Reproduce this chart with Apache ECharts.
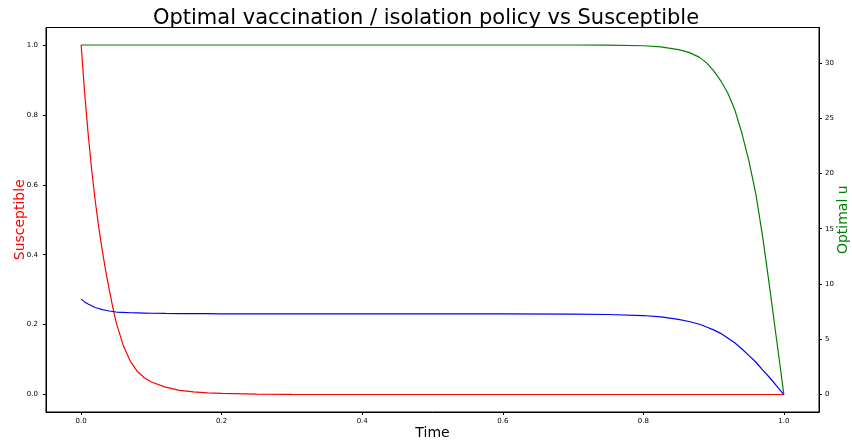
<!DOCTYPE html>
<html>
<head>
<meta charset="utf-8">
<script src="https://cdn.jsdelivr.net/npm/echarts@6/dist/echarts.min.js"></script>
<style>
  html, body { margin: 0; padding: 0; background: #fff; }
  #chart { width: 852px; height: 444px; }
</style>
</head>
<body>
<div id="chart"></div>
<script>
// time grid (non uniform, denser where the curves bend)
var times = [0, 0.005, 0.01, 0.015, 0.02, 0.025, 0.03, 0.035, 0.04, 0.045, 0.05, 0.06, 0.07, 0.08, 0.09,
    0.1, 0.12, 0.14, 0.16, 0.18, 0.2, 0.25, 0.3, 0.4, 0.5, 0.6, 0.7, 0.75, 0.8, 0.825, 0.85, 0.865, 0.88,
    0.89, 0.9, 0.91, 0.92, 0.93, 0.94, 0.95, 0.96, 0.97, 0.98, 0.99, 1.0];
// susceptible (red, left axis)
var susceptible = [1.0, 0.863, 0.745, 0.643, 0.555, 0.479, 0.413, 0.353, 0.300, 0.250, 0.205, 0.140, 0.095,
    0.066, 0.048, 0.036, 0.021, 0.012, 0.0075, 0.0045, 0.003, 0.001, 0.0005,
    0, 0, 0, 0, 0, 0, 0, 0, 0, 0, 0, 0, 0, 0, 0, 0, 0, 0, 0, 0, 0, 0];
// blue curve (left axis)
var blueLine = [0.273, 0.265, 0.259, 0.254, 0.249, 0.246, 0.243, 0.241, 0.239, 0.2375, 0.236, 0.235, 0.234,
    0.2335, 0.233, 0.2325, 0.232, 0.2317, 0.2315, 0.2312, 0.231, 0.231, 0.231, 0.231, 0.231, 0.2305, 0.230,
    0.229, 0.226, 0.222, 0.215, 0.209, 0.201, 0.193, 0.185, 0.175, 0.162, 0.148, 0.131, 0.112, 0.093,
    0.070, 0.048, 0.024, 0];
// optimal u (green, right axis)
var optimalU = [31.62, 31.62, 31.62, 31.62, 31.62, 31.62, 31.62, 31.62, 31.62, 31.62, 31.62, 31.62, 31.62,
    31.62, 31.62, 31.62, 31.62, 31.62, 31.62, 31.62, 31.62, 31.62, 31.62, 31.62, 31.62, 31.62, 31.62,
    31.61, 31.55, 31.45, 31.2, 30.95, 30.5, 30.0, 29.3, 28.4, 27.3, 25.8, 23.7, 21.2, 18.2, 14.2, 9.6,
    4.8, 0];

var xTicks = [0, 0.2, 0.4, 0.6, 0.8, 1.0];
var leftTicks = [0, 0.2, 0.4, 0.6, 0.8, 1.0];
var rightTicks = [0, 5, 10, 15, 20, 25, 30];

function pairs(xs, ys) {
    var out = [];
    for (var i = 0; i < xs.length; i++) {
        out.push([xs[i], ys[i]]);
    }
    return out;
}

// matplotlib style 5% margins round the data
var uMax = 31.62;
var font = 'DejaVu Sans';
var tickLabel = { fontSize: 7, color: '#000', fontFamily: font };

var chart = echarts.init(document.getElementById('chart'), null, { renderer: 'canvas' });

function lineSeries(name, axis, ys, color) {
    return {
        name: name,
        type: 'line',
        yAxisIndex: axis,
        data: pairs(times, ys),
        showSymbol: false,
        smooth: false,
        lineStyle: { color: color, width: 1.2 },
        itemStyle: { color: color }
    };
}

var option = {
    backgroundColor: '#ffffff',
    animation: false,
    title: {
        text: 'Optimal vaccination / isolation policy vs Susceptible',
        left: 'center',
        top: 3,
        textStyle: { fontSize: 21, fontWeight: 'normal', color: '#000', fontFamily: font }
    },
    grid: {
        left: 46, right: 33, top: 27.5, bottom: 32,
        containLabel: false,
        outerBoundsMode: 'none',
        show: true, borderColor: '#000', borderWidth: 1
    },
    xAxis: {
        type: 'value',
        min: -0.05, max: 1.05,
        name: 'Time',
        nameLocation: 'middle',
        nameGap: 14,
        nameMoveOverlap: false,
        nameTextStyle: { fontSize: 14, color: '#000', fontFamily: font },
        axisLine: { show: true, onZero: false, lineStyle: { color: '#000', width: 1 } },
        axisTick: { show: true, length: 3, lineStyle: { color: '#000' }, customValues: xTicks },
        axisLabel: Object.assign({ margin: 6, customValues: xTicks,
            formatter: function (v) { return v.toFixed(1); } }, tickLabel),
        splitLine: { show: false }
    },
    yAxis: [
        {
            type: 'value',
            min: -0.05, max: 1.05,
            position: 'left',
            name: 'Susceptible',
            nameLocation: 'middle',
            nameRotate: 90,
            nameGap: 19,
            nameMoveOverlap: false,
            nameTextStyle: { fontSize: 14, color: '#ff0000', fontFamily: font },
            axisLine: { show: true, onZero: false, lineStyle: { color: '#000', width: 1 } },
            axisTick: { show: true, length: 3, lineStyle: { color: '#000' }, customValues: leftTicks },
            axisLabel: Object.assign({ margin: 8, customValues: leftTicks,
                formatter: function (v) { return v.toFixed(1); } }, tickLabel),
            splitLine: { show: false }
        },
        {
            type: 'value',
            min: -0.05 * uMax, max: 1.05 * uMax,
            position: 'right',
            name: 'Optimal u',
            nameLocation: 'middle',
            nameRotate: 90,
            nameGap: 17,
            nameMoveOverlap: false,
            nameTextStyle: { fontSize: 14, color: '#008000', fontFamily: font },
            axisLine: { show: true, onZero: false, lineStyle: { color: '#000', width: 1 } },
            axisTick: { show: true, length: 3, lineStyle: { color: '#000' }, customValues: rightTicks },
            axisLabel: Object.assign({ margin: 6, customValues: rightTicks,
                formatter: function (v) { return String(v); } }, tickLabel),
            splitLine: { show: false }
        }
    ],
    series: [
        lineSeries('Susceptible', 0, susceptible, '#ff0000'),
        lineSeries('blue', 0, blueLine, '#0000ff'),
        lineSeries('Optimal u', 1, optimalU, '#008000')
    ]
};

chart.setOption(option);
</script>
</body>
</html>
